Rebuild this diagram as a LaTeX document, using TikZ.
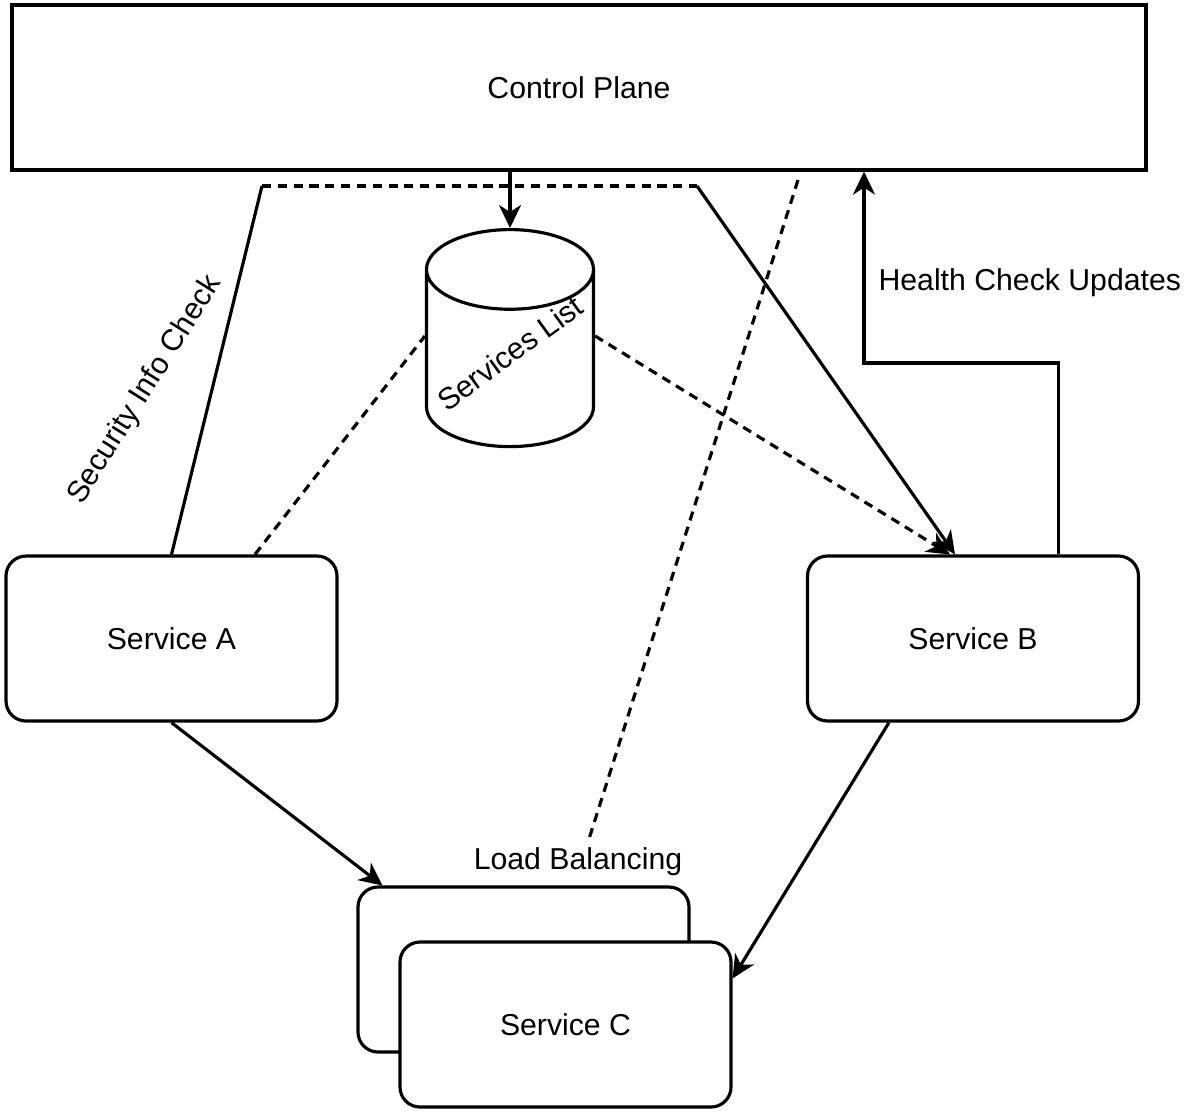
\documentclass[tikz,border=0pt]{standalone}
\usepackage{fontspec}
\setmainfont{Liberation Sans}
\usetikzlibrary{arrows.meta,positioning,shapes.geometric}

\begin{document}
\begin{tikzpicture}[>={Stealth[length=2.3mm,width=2.2mm,inset=0.7mm]},
  font=\fontsize{8.6}{10.3}\selectfont, line width=0.9pt,
  svc/.style={draw, rounded corners=0.2cm, fill=white, minimum width=3.31cm, minimum height=1.65cm, inner sep=2pt},
  plane/.style={draw, minimum width=11.34cm, minimum height=1.65cm},
  store/.style={draw, cylinder, shape border rotate=90, aspect=3.4, minimum width=1.67cm, minimum height=2.17cm, fill=white},
  dsh/.style={dash pattern=on 2.6pt off 1.9pt}
]
\useasboundingbox (0,0) rectangle (11.84,-11.13);
% control plane and the shared list
\node[plane] (cp) at (5.79,-0.875) {Control Plane};
\node[store, anchor=north] (db) at (5.10,-2.28) {};
\node[rotate=36] (dbl) at (5.10,-3.53) {Services List};
\draw[->] (cp.south -| db.north) -- (db.north);
% services
\node[svc] (svcA) at (1.715,-6.385) {Service A};
\node[svc] (svcB) at (9.73,-6.385) {Service B};
\node[svc] (svcC2) at (5.235,-9.695) {};
\node[svc] (svcC) at (5.655,-10.245) {Service C};
% security check path
\coordinate (sec) at (2.62,-1.86);
\coordinate (sbt) at (6.97,-1.86);
\draw (svcA.north) -- (sec);
\draw[dsh] (sec) -- (sbt);
\draw[->] (sbt) -- ([xshift=-0.18cm]svcB.north);
\node[rotate=58] (seclbl) at (1.45,-3.90) {Security Info Check};
% discovery
\draw[dsh] ([xshift=0.835cm]svcA.north) -- ([yshift=0.33cm]db.west);
\draw[dsh,->] ([yshift=0.33cm]db.east) -- ([xshift=-0.23cm]svcB.north);
% health check
\coordinate (hc) at (8.64,-3.63);
\draw[->] ([xshift=-0.82cm]svcB.north east) |- (hc) -- (hc |- cp.south);
\node[anchor=west, inner sep=0pt] (hclbl) at (8.77,-2.83) {Health Check Updates};
% load balancing
\node (lb) at (5.78,-8.62) {Load Balancing};
\coordinate (lbtop) at (7.98,-1.80);
\coordinate (lbend) at (5.88,-8.42);
\draw[dsh] (lbtop) -- (lbend);
\draw[->] (svcA.south) -- ([xshift=0.26cm]svcC2.north west);
\draw[->] ([xshift=0.83cm]svcB.south west) -- ([yshift=-0.38cm]svcC.north east);
\end{tikzpicture}
\end{document}
